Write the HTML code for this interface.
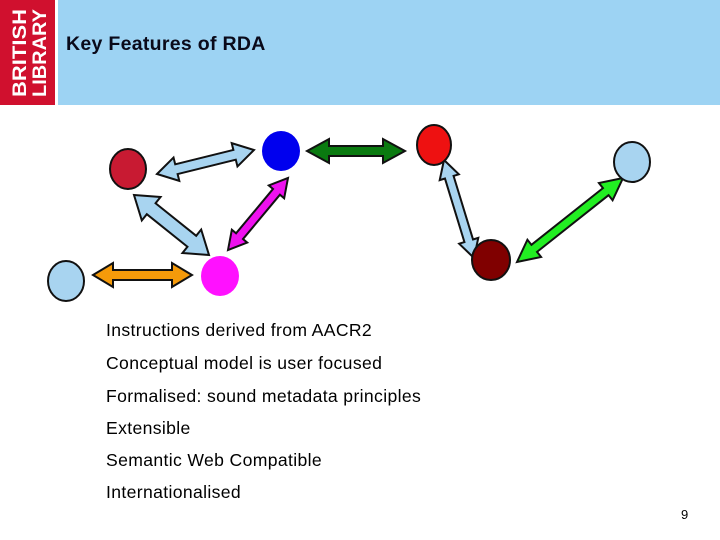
<!DOCTYPE html>
<html><head><meta charset="utf-8"><style>
body{margin:0;width:720px;height:540px;background:#fff;position:relative;overflow:hidden;font-family:"Liberation Sans",sans-serif}
.hdr{position:absolute;left:0;top:0;width:720px;height:105px;background:#9dd3f3}
.logo{position:absolute;left:0;top:0;width:55px;height:105px;background:#d0102e;border-right:3px solid #fff}
.title{position:absolute;left:66px;top:33px;font-size:19.5px;font-weight:bold;color:#0a0a1a;letter-spacing:0.3px}
.li{position:absolute;left:106px;font-size:17.6px;color:#000;letter-spacing:0.35px}
</style></head><body>
<div class="hdr"></div>
<div class="logo"><svg width="55" height="105"><g fill="#fff" font-family="Liberation Sans" font-size="19" font-weight="bold">
<text transform="translate(26,97) rotate(-90)" textLength="88" lengthAdjust="spacingAndGlyphs">BRITISH</text>
<text transform="translate(46,97) rotate(-90)" textLength="88" lengthAdjust="spacingAndGlyphs">LIBRARY</text></g></svg></div>
<div class="title">Key Features of RDA</div>
<svg id="d" width="720" height="320" style="position:absolute;left:0;top:0"></svg>
<div class="li" style="top:320px">Instructions derived from AACR2</div>
<div class="li" style="top:353px">Conceptual model is user focused</div>
<div class="li" style="top:386px">Formalised: sound metadata principles</div>
<div class="li" style="top:418px">Extensible</div>
<div class="li" style="top:450px">Semantic Web Compatible</div>
<div class="li" style="top:482px">Internationalised</div>
<div style="position:absolute;left:681px;top:507px;font-size:13px">9</div>
<script>
var s='';
function arr(x1,y1,x2,y2,w,hw,hl,c){var dx=x2-x1,dy=y2-y1,L=Math.hypot(dx,dy),a=Math.atan2(dy,dx)*180/Math.PI,h=w/2,H=hw/2;
var p=[[0,0],[hl,-H],[hl,-h],[L-hl,-h],[L-hl,-H],[L,0],[L-hl,H],[L-hl,h],[hl,h],[hl,H]].map(q=>q.join(',')).join(' ');
s+='<polygon transform="translate('+x1+','+y1+') rotate('+a+')" points="'+p+'" fill="'+c+'" stroke="#111" stroke-width="2"/>';}
arr(157,174,254,150,10,24,20,'#a8d4f0');
arr(307,151,405,151,10,24,22,'#0a7a10');
arr(444,160,474,258,9,20,18,'#a8d4f0');
arr(517,262,623,178,9,22,22,'#22ee22');
arr(134,195,209,255,14,30,22,'#a8d4f0');
arr(228,250,288,178,9,20,18,'#ee11ee');
arr(93,275,192,275,10,24,20,'#f59a0a');
function c(x,y,rx,ry,f,st){s+='<ellipse cx="'+x+'" cy="'+y+'" rx="'+rx+'" ry="'+ry+'" fill="'+f+'"'+(st?' stroke="#111" stroke-width="2"':'')+'/>';}
c(128,169,18,20,'#c81a32',1);c(281,151,19,20,'#0000ee',0);c(434,145,17,20,'#ee1111',1);
c(632,162,18,20,'#a8d4f0',1);c(491,260,19,20,'#800000',1);c(220,276,19,20,'#ff11ff',0);c(66,281,18,20,'#a8d4f0',1);
document.getElementById('d').innerHTML=s;
</script>
</body></html>
